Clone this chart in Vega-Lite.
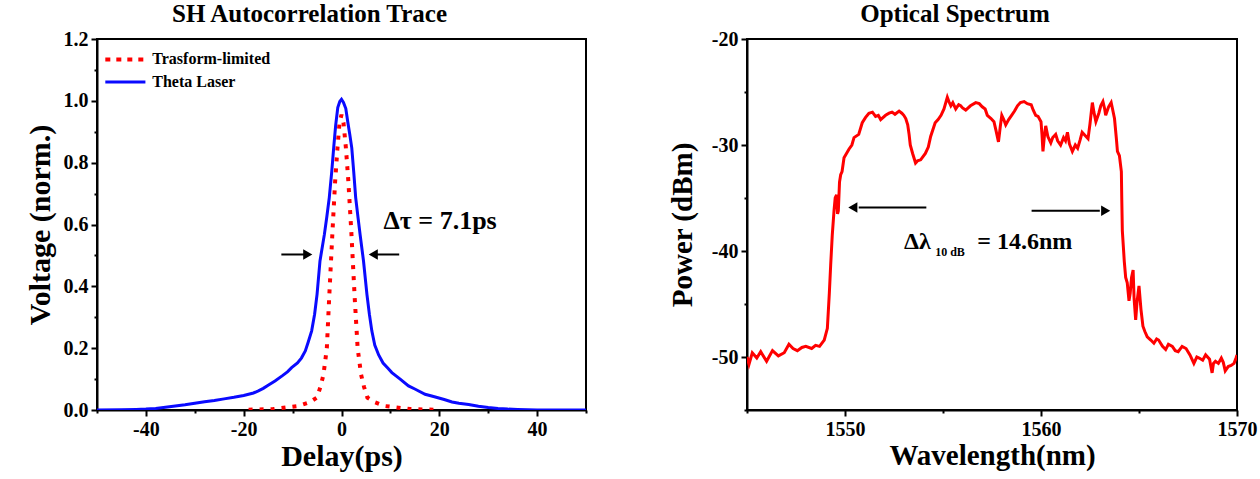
{
  "$schema": "https://vega.github.io/schema/vega-lite/v6.json",
  "background": "white",
  "padding": {"left": 24, "top": 1, "right": 5, "bottom": 5},
  "spacing": 161,
  "bounds": "flush",
  "config": {
    "view": {"stroke": "black", "strokeWidth": 2},
    "axis": {"domainColor": "black", "domainWidth": 2, "tickColor": "black", "tickWidth": 2, "labelFont": "Liberation Serif", "labelFontWeight": "bold", "labelFontSize": 20, "labelColor": "black", "titleFont": "Liberation Serif", "titleFontWeight": "bold", "titleColor": "black", "grid": false, "labelOverlap": false, "labelFlush": false, "labelPadding": 3},
    "title": {"font": "Liberation Serif", "fontWeight": "bold", "fontSize": 25, "color": "black"},
    "text": {"font": "Liberation Serif", "fontWeight": "bold", "color": "black"}
  },
  "datasets": {
    "blue": [
      {"delay": -50, "voltage": 0.0}, {"delay": -45, "voltage": 0.001}, {"delay": -42, "voltage": 0.002}, {"delay": -40, "voltage": 0.003},
      {"delay": -38, "voltage": 0.005}, {"delay": -36, "voltage": 0.009}, {"delay": -34, "voltage": 0.013}, {"delay": -32, "voltage": 0.017},
      {"delay": -30, "voltage": 0.022}, {"delay": -28, "voltage": 0.027}, {"delay": -26, "voltage": 0.031}, {"delay": -24, "voltage": 0.036},
      {"delay": -22, "voltage": 0.041}, {"delay": -20, "voltage": 0.047}, {"delay": -18, "voltage": 0.055}, {"delay": -17, "voltage": 0.062},
      {"delay": -16, "voltage": 0.07}, {"delay": -15, "voltage": 0.08}, {"delay": -13.6, "voltage": 0.094}, {"delay": -12, "voltage": 0.112},
      {"delay": -11, "voltage": 0.124}, {"delay": -10.2, "voltage": 0.137}, {"delay": -9, "voltage": 0.152}, {"delay": -8.2, "voltage": 0.168},
      {"delay": -7.4, "voltage": 0.191}, {"delay": -6.8, "voltage": 0.22}, {"delay": -6.1, "voltage": 0.256}, {"delay": -5.5, "voltage": 0.31},
      {"delay": -5.0, "voltage": 0.374}, {"delay": -4.4, "voltage": 0.482}, {"delay": -3.5, "voltage": 0.568}, {"delay": -3.0, "voltage": 0.625},
      {"delay": -2.5, "voltage": 0.687}, {"delay": -2.0, "voltage": 0.77}, {"delay": -1.6, "voltage": 0.848}, {"delay": -1.2, "voltage": 0.92},
      {"delay": -0.76, "voltage": 0.978}, {"delay": -0.35, "voltage": 0.998}, {"delay": 0.0, "voltage": 1.005}, {"delay": 0.4, "voltage": 0.995},
      {"delay": 0.88, "voltage": 0.975}, {"delay": 1.3, "voltage": 0.93}, {"delay": 1.7, "voltage": 0.89}, {"delay": 2.1, "voltage": 0.848},
      {"delay": 2.5, "voltage": 0.77}, {"delay": 2.9, "voltage": 0.687}, {"delay": 3.4, "voltage": 0.62}, {"delay": 3.8, "voltage": 0.568},
      {"delay": 4.5, "voltage": 0.482}, {"delay": 5.2, "voltage": 0.374}, {"delay": 5.7, "voltage": 0.31}, {"delay": 6.2, "voltage": 0.256},
      {"delay": 6.8, "voltage": 0.21}, {"delay": 7.6, "voltage": 0.178}, {"delay": 8.5, "voltage": 0.152}, {"delay": 9.5, "voltage": 0.135},
      {"delay": 10.3, "voltage": 0.121}, {"delay": 12, "voltage": 0.1}, {"delay": 13.7, "voltage": 0.078}, {"delay": 15, "voltage": 0.068},
      {"delay": 17.1, "voltage": 0.051}, {"delay": 19, "voltage": 0.043}, {"delay": 21, "voltage": 0.034}, {"delay": 22.6, "voltage": 0.026},
      {"delay": 24, "voltage": 0.022}, {"delay": 26, "voltage": 0.018}, {"delay": 28, "voltage": 0.012}, {"delay": 30, "voltage": 0.008},
      {"delay": 32, "voltage": 0.005}, {"delay": 34, "voltage": 0.003}, {"delay": 36, "voltage": 0.002}, {"delay": 38, "voltage": 0.001},
      {"delay": 40, "voltage": 0.0}, {"delay": 50, "voltage": 0.0}
    ],
    "red": [
      {"delay": -19, "voltage": 0.001}, {"delay": -14, "voltage": 0.003}, {"delay": -8.8, "voltage": 0.013}, {"delay": -6.5, "voltage": 0.025},
      {"delay": -5.04, "voltage": 0.04}, {"delay": -4.3, "voltage": 0.075}, {"delay": -3.68, "voltage": 0.115}, {"delay": -3.0, "voltage": 0.2},
      {"delay": -2.52, "voltage": 0.363}, {"delay": -1.84, "voltage": 0.579}, {"delay": -1.3, "voltage": 0.74}, {"delay": -0.82, "voltage": 0.848},
      {"delay": -0.4, "voltage": 0.93}, {"delay": 0.0, "voltage": 0.955}, {"delay": 0.4, "voltage": 0.93}, {"delay": 0.9, "voltage": 0.848},
      {"delay": 1.4, "voltage": 0.74}, {"delay": 2.0, "voltage": 0.579}, {"delay": 2.7, "voltage": 0.363}, {"delay": 3.3, "voltage": 0.2},
      {"delay": 4.0, "voltage": 0.115}, {"delay": 4.6, "voltage": 0.075}, {"delay": 5.3, "voltage": 0.04}, {"delay": 6.8, "voltage": 0.025},
      {"delay": 8.8, "voltage": 0.013}, {"delay": 14, "voltage": 0.003}, {"delay": 19, "voltage": 0.001}
    ],
    "spectrum": [
      {"wavelength": 1545.0, "power": -50.0}, {"wavelength": 1545.1, "power": -50.7}, {"wavelength": 1545.27, "power": -49.6}, {"wavelength": 1545.5, "power": -50.1},
      {"wavelength": 1545.7, "power": -49.5}, {"wavelength": 1546.0, "power": -50.4}, {"wavelength": 1546.3, "power": -49.4}, {"wavelength": 1546.6, "power": -49.9},
      {"wavelength": 1546.9, "power": -49.6}, {"wavelength": 1547.14, "power": -48.8}, {"wavelength": 1547.35, "power": -49.2}, {"wavelength": 1547.57, "power": -49.4},
      {"wavelength": 1547.8, "power": -49.1}, {"wavelength": 1548.0, "power": -49.0}, {"wavelength": 1548.3, "power": -49.2}, {"wavelength": 1548.5, "power": -48.9},
      {"wavelength": 1548.7, "power": -49.0}, {"wavelength": 1548.94, "power": -48.4}, {"wavelength": 1549.1, "power": -47.3}, {"wavelength": 1549.2, "power": -44.0},
      {"wavelength": 1549.27, "power": -41.3}, {"wavelength": 1549.35, "power": -38.5}, {"wavelength": 1549.44, "power": -36.2}, {"wavelength": 1549.5, "power": -35.0},
      {"wavelength": 1549.57, "power": -34.7}, {"wavelength": 1549.62, "power": -36.5}, {"wavelength": 1549.66, "power": -36.2}, {"wavelength": 1549.72, "power": -33.5},
      {"wavelength": 1549.78, "power": -32.8}, {"wavelength": 1549.85, "power": -32.5}, {"wavelength": 1549.95, "power": -31.2}, {"wavelength": 1550.2, "power": -30.4},
      {"wavelength": 1550.35, "power": -30.0}, {"wavelength": 1550.46, "power": -29.3}, {"wavelength": 1550.7, "power": -29.0}, {"wavelength": 1550.88, "power": -27.9},
      {"wavelength": 1551.05, "power": -27.4}, {"wavelength": 1551.22, "power": -27.0}, {"wavelength": 1551.4, "power": -26.9}, {"wavelength": 1551.56, "power": -27.3},
      {"wavelength": 1551.7, "power": -27.2}, {"wavelength": 1551.82, "power": -27.6}, {"wavelength": 1552.07, "power": -27.2}, {"wavelength": 1552.25, "power": -27.0},
      {"wavelength": 1552.4, "power": -26.9}, {"wavelength": 1552.55, "power": -27.1}, {"wavelength": 1552.76, "power": -26.8}, {"wavelength": 1552.9, "power": -27.0},
      {"wavelength": 1553.0, "power": -27.2}, {"wavelength": 1553.1, "power": -27.5}, {"wavelength": 1553.2, "power": -28.1}, {"wavelength": 1553.27, "power": -29.0},
      {"wavelength": 1553.33, "power": -30.0}, {"wavelength": 1553.45, "power": -30.8}, {"wavelength": 1553.6, "power": -31.7}, {"wavelength": 1553.7, "power": -31.5},
      {"wavelength": 1553.86, "power": -31.4}, {"wavelength": 1554.1, "power": -30.8}, {"wavelength": 1554.25, "power": -30.2}, {"wavelength": 1554.37, "power": -29.2},
      {"wavelength": 1554.6, "power": -27.9}, {"wavelength": 1554.75, "power": -27.6}, {"wavelength": 1554.9, "power": -27.2}, {"wavelength": 1555.05, "power": -26.6},
      {"wavelength": 1555.22, "power": -25.5}, {"wavelength": 1555.3, "power": -25.9}, {"wavelength": 1555.4, "power": -26.3}, {"wavelength": 1555.5, "power": -26.0},
      {"wavelength": 1555.65, "power": -26.6}, {"wavelength": 1555.8, "power": -26.2}, {"wavelength": 1555.9, "power": -26.3}, {"wavelength": 1556.0, "power": -26.5},
      {"wavelength": 1556.16, "power": -26.7}, {"wavelength": 1556.4, "power": -26.3}, {"wavelength": 1556.67, "power": -26.0}, {"wavelength": 1556.85, "power": -26.1},
      {"wavelength": 1557.0, "power": -26.4}, {"wavelength": 1557.15, "power": -26.6}, {"wavelength": 1557.26, "power": -27.2}, {"wavelength": 1557.45, "power": -27.5},
      {"wavelength": 1557.6, "power": -27.8}, {"wavelength": 1557.7, "power": -28.6}, {"wavelength": 1557.83, "power": -29.7}, {"wavelength": 1557.92, "power": -28.3},
      {"wavelength": 1558.0, "power": -27.2}, {"wavelength": 1558.1, "power": -27.6}, {"wavelength": 1558.2, "power": -28.1}, {"wavelength": 1558.35, "power": -27.6},
      {"wavelength": 1558.5, "power": -27.2}, {"wavelength": 1558.65, "power": -26.8}, {"wavelength": 1558.8, "power": -26.3}, {"wavelength": 1558.95, "power": -26.0},
      {"wavelength": 1559.14, "power": -25.9}, {"wavelength": 1559.3, "power": -26.1}, {"wavelength": 1559.5, "power": -26.2}, {"wavelength": 1559.6, "power": -26.7},
      {"wavelength": 1559.73, "power": -27.2}, {"wavelength": 1559.85, "power": -27.3}, {"wavelength": 1560.0, "power": -27.8}, {"wavelength": 1560.05, "power": -29.0},
      {"wavelength": 1560.1, "power": -30.6}, {"wavelength": 1560.17, "power": -29.2}, {"wavelength": 1560.24, "power": -28.2}, {"wavelength": 1560.35, "power": -29.2},
      {"wavelength": 1560.5, "power": -29.8}, {"wavelength": 1560.6, "power": -29.3}, {"wavelength": 1560.75, "power": -29.0}, {"wavelength": 1560.85, "power": -29.6},
      {"wavelength": 1561.0, "power": -30.0}, {"wavelength": 1561.15, "power": -29.3}, {"wavelength": 1561.25, "power": -29.6}, {"wavelength": 1561.35, "power": -28.8},
      {"wavelength": 1561.45, "power": -29.9}, {"wavelength": 1561.6, "power": -30.6}, {"wavelength": 1561.75, "power": -30.0}, {"wavelength": 1561.87, "power": -30.3},
      {"wavelength": 1562.0, "power": -29.5}, {"wavelength": 1562.1, "power": -28.8}, {"wavelength": 1562.25, "power": -29.1}, {"wavelength": 1562.4, "power": -29.4},
      {"wavelength": 1562.5, "power": -28.0}, {"wavelength": 1562.62, "power": -26.0}, {"wavelength": 1562.7, "power": -26.9}, {"wavelength": 1562.8, "power": -27.8},
      {"wavelength": 1562.95, "power": -27.0}, {"wavelength": 1563.05, "power": -26.3}, {"wavelength": 1563.16, "power": -25.9}, {"wavelength": 1563.25, "power": -26.6},
      {"wavelength": 1563.3, "power": -27.2}, {"wavelength": 1563.45, "power": -26.4}, {"wavelength": 1563.58, "power": -26.0}, {"wavelength": 1563.65, "power": -26.6},
      {"wavelength": 1563.75, "power": -27.5}, {"wavelength": 1563.85, "power": -29.5}, {"wavelength": 1563.9, "power": -30.6}, {"wavelength": 1564.0, "power": -31.0},
      {"wavelength": 1564.1, "power": -32.5}, {"wavelength": 1564.12, "power": -35.0}, {"wavelength": 1564.15, "power": -38.1}, {"wavelength": 1564.25, "power": -41.0},
      {"wavelength": 1564.32, "power": -42.5}, {"wavelength": 1564.4, "power": -43.0}, {"wavelength": 1564.49, "power": -44.7}, {"wavelength": 1564.55, "power": -44.0},
      {"wavelength": 1564.62, "power": -42.5}, {"wavelength": 1564.7, "power": -41.8}, {"wavelength": 1564.75, "power": -44.5}, {"wavelength": 1564.83, "power": -46.5},
      {"wavelength": 1564.9, "power": -44.8}, {"wavelength": 1565.0, "power": -43.3}, {"wavelength": 1565.1, "power": -45.5}, {"wavelength": 1565.2, "power": -47.1},
      {"wavelength": 1565.3, "power": -47.6}, {"wavelength": 1565.42, "power": -48.1}, {"wavelength": 1565.6, "power": -48.4}, {"wavelength": 1565.76, "power": -48.7},
      {"wavelength": 1565.9, "power": -48.3}, {"wavelength": 1566.0, "power": -48.4}, {"wavelength": 1566.2, "power": -49.0}, {"wavelength": 1566.36, "power": -49.3},
      {"wavelength": 1566.5, "power": -48.8}, {"wavelength": 1566.7, "power": -49.0}, {"wavelength": 1566.85, "power": -49.4}, {"wavelength": 1567.0, "power": -49.5},
      {"wavelength": 1567.2, "power": -49.0}, {"wavelength": 1567.4, "power": -49.2}, {"wavelength": 1567.6, "power": -49.8}, {"wavelength": 1567.8, "power": -50.6},
      {"wavelength": 1567.95, "power": -50.0}, {"wavelength": 1568.07, "power": -50.1}, {"wavelength": 1568.25, "power": -50.3}, {"wavelength": 1568.4, "power": -49.8},
      {"wavelength": 1568.6, "power": -50.2}, {"wavelength": 1568.73, "power": -51.5}, {"wavelength": 1568.8, "power": -50.6}, {"wavelength": 1568.9, "power": -50.4},
      {"wavelength": 1569.05, "power": -50.6}, {"wavelength": 1569.2, "power": -50.1}, {"wavelength": 1569.3, "power": -50.5}, {"wavelength": 1569.4, "power": -51.3},
      {"wavelength": 1569.55, "power": -50.9}, {"wavelength": 1569.7, "power": -50.8}, {"wavelength": 1569.85, "power": -50.6}, {"wavelength": 1569.95, "power": -50.1},
      {"wavelength": 1570.0, "power": -49.8}
    ]
  },
  "hconcat": [
    {
      "width": 489,
      "height": 371,
      "title": {"text": "SH Autocorrelation Trace", "dx": -32, "offset": 2},
      "encoding": {
        "x": {"field": "delay", "type": "quantitative", "scale": {"domain": [-50, 50], "nice": false, "zero": false},
              "axis": {"title": "Delay(ps)", "titleFontSize": 30, "titlePadding": 2, "values": [-50, -40, -30, -20, -10, 0, 10, 20, 30, 40, 50],
                       "tickSize": {"condition": {"test": "datum.value % 20 == 0", "value": 6}, "value": 3},
                       "labelExpr": "(abs(datum.value) % 20 == 0 && abs(datum.value) < 50) ? datum.value + '' : ''"}},
        "y": {"field": "voltage", "type": "quantitative", "scale": {"domain": [0, 1.2], "nice": false},
              "axis": {"title": "Voltage (norm.)", "titleFontSize": 30, "titlePadding": 8, "values": [0, 0.1, 0.2, 0.3, 0.4, 0.5, 0.6, 0.7, 0.8, 0.9, 1.0, 1.1, 1.2],
                       "tickSize": {"condition": {"test": "round(datum.value * 10) % 2 == 0", "value": 6}, "value": 3},
                       "labelExpr": "round(datum.value * 10) % 2 == 0 ? format(datum.value, '.1f') : ''"}}
      },
      "layer": [
        {"data": {"name": "blue"}, "mark": {"type": "line", "color": "#0a0aff", "strokeWidth": 3, "clip": true}},
        {"data": {"name": "red"}, "mark": {"type": "line", "color": "#ff0000", "strokeWidth": 4, "strokeDash": [4, 7], "clip": true}},
        {"data": {"values": [{"delay": -12.3, "delay2": -7.0, "voltage": 0.503}, {"delay": 11.8, "delay2": 6.6, "voltage": 0.503}]},
         "mark": {"type": "rule", "color": "black", "strokeWidth": 2},
         "encoding": {"x2": {"field": "delay2"}}},
        {"data": {"values": [{"delay": -6.9, "voltage": 0.503, "dir": "triangle-right"}, {"delay": 6.5, "voltage": 0.503, "dir": "triangle-left"}]},
         "mark": {"type": "point", "filled": true, "color": "black", "opacity": 1, "size": 110},
         "encoding": {"shape": {"field": "dir", "type": "nominal", "scale": null}}},
        {"data": {"values": [{"delay": 8.6, "voltage": 0.585, "label": "Δτ = 7.1ps"}]},
         "mark": {"type": "text", "align": "left", "baseline": "alphabetic", "fontSize": 26},
         "encoding": {"text": {"field": "label"}}},
        {"data": {"values": [{"delay": -48.3, "delay2": -40.1, "voltage": 1.134}]},
         "mark": {"type": "rule", "color": "#ff0000", "strokeWidth": 4, "strokeDash": [5, 6]},
         "encoding": {"x2": {"field": "delay2"}}},
        {"data": {"values": [{"delay": -48.3, "delay2": -40.1, "voltage": 1.061}]},
         "mark": {"type": "rule", "color": "#0a0aff", "strokeWidth": 3},
         "encoding": {"x2": {"field": "delay2"}}},
        {"data": {"values": [{"delay": -38.7, "voltage": 1.134, "label": "Trasform-limited"}, {"delay": -38.7, "voltage": 1.061, "label": "Theta Laser"}]},
         "mark": {"type": "text", "align": "left", "baseline": "middle", "fontSize": 16},
         "encoding": {"text": {"field": "label"}}}
      ]
    },
    {
      "width": 490,
      "height": 371,
      "title": {"text": "Optical Spectrum", "dx": -37, "offset": 2},
      "encoding": {
        "x": {"field": "wavelength", "type": "quantitative", "scale": {"domain": [1545, 1570], "nice": false, "zero": false},
              "axis": {"title": "Wavelength(nm)", "titleFontSize": 29, "titlePadding": 2, "values": [1545, 1550, 1555, 1560, 1565, 1570],
                       "tickSize": {"condition": {"test": "datum.value % 10 == 0", "value": 6}, "value": 3},
                       "labelExpr": "datum.value % 10 == 0 ? datum.value + '' : ''"}},
        "y": {"field": "power", "type": "quantitative", "scale": {"domain": [-55, -20], "nice": false, "zero": false},
              "axis": {"title": "Power (dBm)", "titleFontSize": 29, "titlePadding": 14, "values": [-55, -50, -45, -40, -35, -30, -25, -20],
                       "tickSize": {"condition": {"test": "datum.value % 10 == 0", "value": 6}, "value": 3},
                       "labelExpr": "datum.value % 10 == 0 ? datum.value + '' : ''"}}
      },
      "layer": [
        {"data": {"name": "spectrum"}, "mark": {"type": "line", "color": "#ff0000", "strokeWidth": 3, "clip": true}},
        {"data": {"values": [{"wavelength": 1550.7, "wavelength2": 1554.15, "power": -35.9}, {"wavelength": 1559.52, "wavelength2": 1563.0, "power": -36.2}]},
         "mark": {"type": "rule", "color": "black", "strokeWidth": 2},
         "encoding": {"x2": {"field": "wavelength2"}}},
        {"data": {"values": [{"wavelength": 1550.4, "power": -35.9, "dir": "triangle-left"}, {"wavelength": 1563.3, "power": -36.2, "dir": "triangle-right"}]},
         "mark": {"type": "point", "filled": true, "color": "black", "opacity": 1, "size": 110},
         "encoding": {"shape": {"field": "dir", "type": "nominal", "scale": null}}},
        {"data": {"values": [{"wavelength": 1553.01, "power": -39.8, "label": "Δλ"}, {"wavelength": 1556.75, "power": -39.8, "label": "= 14.6nm"}]},
         "mark": {"type": "text", "align": "left", "baseline": "alphabetic", "fontSize": 24},
         "encoding": {"text": {"field": "label"}}},
        {"data": {"values": [{"wavelength": 1554.6, "power": -40.5, "label": "10 dB"}]},
         "mark": {"type": "text", "align": "left", "baseline": "alphabetic", "fontSize": 12},
         "encoding": {"text": {"field": "label"}}}
      ]
    }
  ]
}
